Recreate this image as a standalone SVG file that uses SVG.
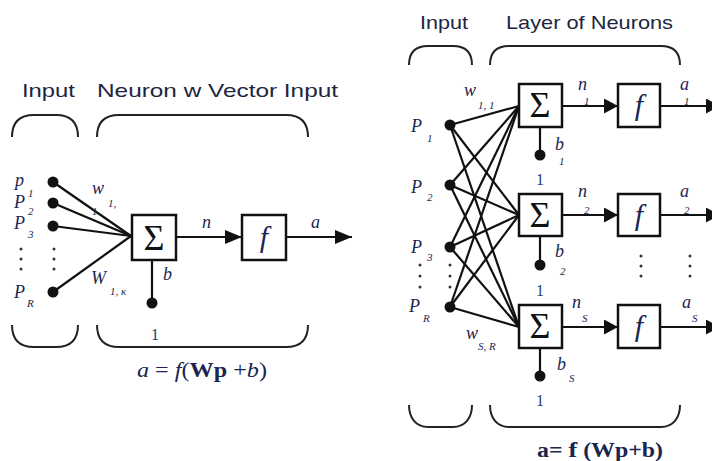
<svg xmlns="http://www.w3.org/2000/svg" width="712" height="461" viewBox="0 0 712 461">
<style>
.bg{fill:#ffffff}
.ln{stroke:#111;stroke-width:2.2;fill:none}
.bx{stroke:#111;stroke-width:2.5;fill:#fff}
.br{stroke:#222;stroke-width:2;fill:none}
.dot{fill:#111}
.sd{fill:#333}
.title{font-family:"Liberation Sans",Arial,sans-serif;font-size:19px;fill:#1c2640}
.it{font-family:"Liberation Serif","Times New Roman",serif;font-style:italic;fill:#1a2650}
.lab{font-size:18px}
.sub{font-size:11px}
.num{font-family:"Liberation Serif","Times New Roman",serif;font-size:16px;fill:#23407a}
.sig{font-family:"Liberation Serif","Times New Roman",serif;font-size:36px;fill:#111}
.fx{font-family:"Liberation Serif","Times New Roman",serif;font-style:italic;font-size:30px;fill:#1a2650}
.eq{font-family:"Liberation Serif","Times New Roman",serif;font-size:20px;fill:#1a2650}
</style>
<defs>
<marker id="ah" markerUnits="userSpaceOnUse" markerWidth="17" markerHeight="14" refX="17" refY="7" orient="auto">
<path d="M0,0 L17,7 L0,14 z" fill="#111"/>
</marker>
<marker id="ah2" markerUnits="userSpaceOnUse" markerWidth="14" markerHeight="15" refX="14" refY="7.5" orient="auto">
<path d="M0,0 L14,7.5 L0,15 z" fill="#111"/>
</marker>
</defs>
<rect class="bg" x="0" y="0" width="712" height="461"/>

<!-- ===== Left diagram ===== -->
<g id="left-titles">
<text class="title" x="22" y="97" textLength="53" lengthAdjust="spacingAndGlyphs">Input</text>
<text class="title" x="97" y="97" textLength="241" lengthAdjust="spacingAndGlyphs">Neuron w Vector Input</text>
</g>
<g id="left-brackets">
<path class="br" d="M12,137 C12,122 20,115 34,115 L56,115 C70,115 78,122 78,137"/>
<path class="br" d="M97,137 C97,122 105,115 119,115 L286,115 C300,115 308,122 308,137"/>
<path class="br" d="M12,325 C12,340 20,347 34,347 L56,347 C70,347 78,340 78,325"/>
<path class="br" d="M97,325 C97,340 105,347 119,347 L286,347 C300,347 308,340 308,325"/>
</g>
<g id="left-connectors">
<line class="ln" x1="53" y1="182" x2="131" y2="236"/>
<line class="ln" x1="53" y1="203" x2="131" y2="236"/>
<line class="ln" x1="53" y1="226" x2="131" y2="236"/>
<line class="ln" x1="53" y1="292" x2="131" y2="236"/>
<line class="ln" x1="176" y1="237" x2="242" y2="237" marker-end="url(#ah)"/>
<line class="ln" x1="286" y1="237" x2="352" y2="237" marker-end="url(#ah)"/>
<line class="ln" x1="152" y1="260" x2="152" y2="303"/>
</g>
<g id="left-inputs">
<circle class="dot" cx="53" cy="182" r="5.5"/>
<circle class="dot" cx="53" cy="203" r="5.5"/>
<circle class="dot" cx="53" cy="226" r="5.5"/>
<circle class="dot" cx="53" cy="292" r="5.5"/>
<circle class="sd" cx="54" cy="249" r="1.5"/>
<circle class="sd" cx="54" cy="259" r="1.5"/>
<circle class="sd" cx="54" cy="269" r="1.5"/>
<circle class="sd" cx="21" cy="249" r="1.5"/>
<circle class="sd" cx="21" cy="259" r="1.5"/>
<circle class="sd" cx="21" cy="269" r="1.5"/>
<text class="it lab" x="15" y="186">p</text><text class="it sub" x="28" y="197">1</text>
<text class="it lab" x="14" y="208">P</text><text class="it sub" x="28" y="215">2</text>
<text class="it lab" x="14" y="229">P</text><text class="it sub" x="28" y="238">3</text>
<text class="it lab" x="14" y="298">P</text><text class="it sub" x="27" y="307">R</text>
<text class="it lab" x="92" y="194">w</text><text class="it sub" x="108" y="207">1,</text><text class="it sub" x="92" y="215">1</text>
<text class="it lab" x="91" y="284">W</text><text class="it sub" x="110" y="295">1, κ</text>
</g>
<g id="left-sum">
<rect class="bx" x="132" y="215" width="44" height="45"/>
<text class="sig" x="154" y="250" text-anchor="middle">Σ</text>
<text class="it lab" x="202" y="228">n</text>
<text class="it lab" x="163" y="280">b</text>
</g>
<g id="left-bias">
<circle class="dot" cx="152" cy="303" r="5.5"/>
<text class="num" x="155" y="340" text-anchor="middle">1</text>
</g>
<g id="left-f">
<rect class="bx" x="242" y="215" width="44" height="45"/>
<text class="fx" x="264" y="247" text-anchor="middle">f</text>
<text class="it lab" x="311" y="228">a</text>
</g>
<g id="left-eq">
<text class="eq" x="137" y="377" textLength="130" lengthAdjust="spacingAndGlyphs"><tspan font-style="italic">a</tspan> = <tspan font-style="italic">f</tspan>(<tspan font-weight="bold">Wp</tspan> +<tspan font-style="italic">b</tspan>)</text>
</g>

<!-- ===== Right diagram ===== -->
<g id="right-titles">
<text class="title" x="420" y="29" textLength="48" lengthAdjust="spacingAndGlyphs">Input</text>
<text class="title" x="506" y="29" textLength="167" lengthAdjust="spacingAndGlyphs">Layer of Neurons</text>
</g>
<g id="right-brackets">
<path class="br" d="M409,65 C409,52 416,46 428,46 L453,46 C465,46 472,52 472,65"/>
<path class="br" d="M490,65 C490,52 497,46 509,46 L661,46 C673,46 680,52 680,65"/>
<path class="br" d="M409,405 C409,418 416,427 428,427 L453,427 C465,427 472,418 472,405"/>
<path class="br" d="M490,405 C490,418 497,427 509,427 L661,427 C673,427 680,418 680,405"/>
</g>
<g id="right-connectors">
<line class="ln" x1="450" y1="125" x2="519" y2="106"/>
<line class="ln" x1="450" y1="125" x2="519" y2="215"/>
<line class="ln" x1="450" y1="125" x2="519" y2="327"/>
<line class="ln" x1="450" y1="185" x2="519" y2="106"/>
<line class="ln" x1="450" y1="185" x2="519" y2="215"/>
<line class="ln" x1="450" y1="185" x2="519" y2="327"/>
<line class="ln" x1="450" y1="247" x2="519" y2="106"/>
<line class="ln" x1="450" y1="247" x2="519" y2="215"/>
<line class="ln" x1="450" y1="247" x2="519" y2="327"/>
<line class="ln" x1="450" y1="307" x2="519" y2="106"/>
<line class="ln" x1="450" y1="307" x2="519" y2="215"/>
<line class="ln" x1="450" y1="307" x2="519" y2="327"/>
<line class="ln" x1="562" y1="106" x2="618" y2="106" marker-end="url(#ah2)"/>
<line class="ln" x1="562" y1="215" x2="618" y2="215" marker-end="url(#ah2)"/>
<line class="ln" x1="562" y1="327" x2="618" y2="327" marker-end="url(#ah2)"/>
<line class="ln" x1="660" y1="106" x2="720" y2="106" marker-end="url(#ah2)"/>
<line class="ln" x1="660" y1="215" x2="720" y2="215" marker-end="url(#ah2)"/>
<line class="ln" x1="660" y1="327" x2="720" y2="327" marker-end="url(#ah2)"/>
<line class="ln" x1="540" y1="127" x2="540" y2="155"/>
<line class="ln" x1="540" y1="236" x2="540" y2="265"/>
<line class="ln" x1="540" y1="348" x2="540" y2="376"/>
</g>
<g id="right-inputs">
<circle class="dot" cx="450" cy="125" r="5.5"/>
<circle class="dot" cx="450" cy="185" r="5.5"/>
<circle class="dot" cx="450" cy="247" r="5.5"/>
<circle class="dot" cx="450" cy="307" r="5.5"/>
<circle class="sd" cx="450" cy="265" r="1.5"/>
<circle class="sd" cx="450" cy="276" r="1.5"/>
<circle class="sd" cx="450" cy="287" r="1.5"/>
<circle class="sd" cx="420" cy="265" r="1.5"/>
<circle class="sd" cx="420" cy="276" r="1.5"/>
<circle class="sd" cx="420" cy="287" r="1.5"/>
<text class="it lab" x="411" y="132">P</text><text class="it sub" x="427" y="142">1</text>
<text class="it lab" x="411" y="193">P</text><text class="it sub" x="427" y="201">2</text>
<text class="it lab" x="411" y="253">P</text><text class="it sub" x="427" y="261">3</text>
<text class="it lab" x="409" y="312">P</text><text class="it sub" x="423" y="322">R</text>
<text class="it lab" x="464" y="96">w</text><text class="it sub" x="478" y="109">1, 1</text>
<text class="it lab" x="466" y="339">w</text><text class="it sub" x="478" y="350">S, R</text>
</g>
<g id="neuron-1">
<rect class="bx" x="519" y="84" width="43" height="43"/>
<text class="sig" x="540" y="117" text-anchor="middle" font-size="34">Σ</text>
<text class="it lab" x="578" y="90">n</text><text class="it sub" x="584" y="105">1</text>
<circle class="dot" cx="540" cy="155" r="5.5"/>
<text class="it lab" x="555" y="150">b</text><text class="it sub" x="559" y="165">1</text>
<text class="num" x="540" y="185" text-anchor="middle">1</text>
<rect class="bx" x="618" y="84" width="42" height="43"/>
<text class="fx" x="639" y="115" text-anchor="middle">f</text>
<text class="it lab" x="680" y="90">a</text><text class="it sub" x="684" y="105">1</text>
</g>
<g id="neuron-2">
<rect class="bx" x="519" y="194" width="43" height="42"/>
<text class="sig" x="540" y="227" text-anchor="middle" font-size="34">Σ</text>
<text class="it lab" x="578" y="197">n</text><text class="it sub" x="584" y="214">2</text>
<circle class="dot" cx="540" cy="265" r="5.5"/>
<text class="it lab" x="555" y="257">b</text><text class="it sub" x="560" y="275">2</text>
<text class="num" x="540" y="296" text-anchor="middle">1</text>
<rect class="bx" x="618" y="194" width="42" height="42"/>
<text class="fx" x="639" y="225" text-anchor="middle">f</text>
<text class="it lab" x="680" y="197">a</text><text class="it sub" x="684" y="214">2</text>
</g>
<g id="neuron-dots">
<circle class="sd" cx="641" cy="256" r="1.5"/>
<circle class="sd" cx="641" cy="266" r="1.5"/>
<circle class="sd" cx="641" cy="276" r="1.5"/>
<circle class="sd" cx="690" cy="256" r="1.5"/>
<circle class="sd" cx="690" cy="266" r="1.5"/>
<circle class="sd" cx="690" cy="276" r="1.5"/>
</g>
<g id="neuron-s">
<rect class="bx" x="519" y="305" width="43" height="43"/>
<text class="sig" x="540" y="338" text-anchor="middle" font-size="34">Σ</text>
<text class="it lab" x="572" y="308">n</text><text class="it sub" x="582" y="322">S</text>
<circle class="dot" cx="540" cy="376" r="5.5"/>
<text class="it lab" x="557" y="370">b</text><text class="it sub" x="569" y="382">S</text>
<text class="num" x="540" y="406" text-anchor="middle">1</text>
<rect class="bx" x="618" y="305" width="42" height="43"/>
<text class="fx" x="639" y="336" text-anchor="middle">f</text>
<text class="it lab" x="682" y="308">a</text><text class="it sub" x="692" y="322">S</text>
</g>
<g id="right-eq">
<text class="eq" x="537" y="457" font-weight="bold" font-size="18" textLength="126" lengthAdjust="spacingAndGlyphs">a= <tspan font-size="22">f</tspan> (Wp+b)</text>
</g>
</svg>
